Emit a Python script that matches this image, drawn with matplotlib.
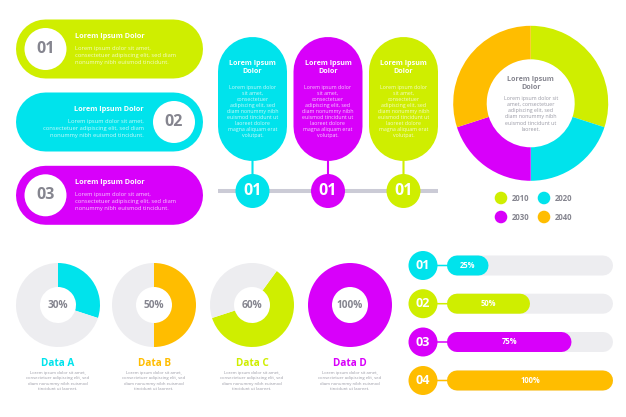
import matplotlib
matplotlib.use("Agg")
import matplotlib.pyplot as plt
from matplotlib.patches import Circle

plt.rcParams['font.family'] = ['Open Sans', 'DejaVu Sans']

LIME, CYAN, MAGENTA, ORANGE = '#CFEE00', '#00E3EC', '#D800FA', '#FFBD00'
TRACK, INK, RULE = '#EDEDF0', '#85858F', '#CBCBD6'

row_labels = ['01', '02', '03']
timeline_labels = ['01', '01', '01']
ring_years = ['2010', '2020', '2030', '2040']
ring_values = [30, 20, 20, 30]
data_names = ['Data A', 'Data B', 'Data C', 'Data D']
data_percent = [30, 50, 60, 100]
bar_labels = ['01', '02', '03', '04']
bar_percent = [25, 50, 75, 100]

title_one = 'Lorem Ipsum Dolor'
row_body = ['Lorem ipsum dolor sit amet,',
            'consectetuer adipiscing elit, sed diam',
            'nonummy nibh euismod tincidunt.']
column_title = ['Lorem Ipsum', 'Dolor']
column_body = ['Lorem ipsum dolor', 'sit amet,', 'consectetuer',
               'adipiscing elit, sed', 'diam nonummy nibh',
               'euismod tincidunt ut', 'laoreet dolore',
               'magna aliquam erat', 'volutpat.']
ring_body = ['Lorem ipsum dolor sit', 'amet, consectetuer',
             'adipiscing elit, sed', 'diam nonummy nibh',
             'euismod tincidunt ut', 'laoreet.']
data_body = ['Lorem ipsum dolor sit amet,', 'consectetuer adipiscing elit, sed',
             'diam nonummy nibh euismod', 'tincidunt ut laoreet.']

W, H = 626, 417
fig = plt.figure(figsize=(W / 100, H / 100), dpi=100, facecolor='white')
ax = fig.add_axes([0, 0, 1, 1])


def Y(y):
    return H - y


def pill(x0, y0, x1, y1, color, z=1):
    # a thick line with round caps gives true semicircular ends
    w, h = x1 - x0, y1 - y0
    r = min(w, h) / 2
    cx, cy = (x0 + x1) / 2, (y0 + y1) / 2
    if w >= h:
        xs, ys = [x0 + r, x1 - r], [Y(cy), Y(cy)]
    else:
        xs, ys = [cx, cx], [Y(y0 + r), Y(y1 - r)]
    ax.plot(xs, ys, color=color, lw=2 * r * 72 / 100, solid_capstyle='round',
            zorder=z, snap=False)


def disc(x, y, r, color, z=3):
    ax.add_patch(Circle((x, Y(y)), r, fc=color, ec='none', zorder=z))


def put(x, y, s, size, color='white', bold=False, ha='center', alpha=1, z=5):
    ax.text(x, Y(y), s, fontsize=size, color=color, alpha=alpha, ha=ha, va='center',
            fontweight='bold' if bold else 'normal', zorder=z)


def donut(cx, cy, r, inner, values, colors, start=90):
    ax.pie(values, colors=colors, center=(cx, Y(cy)), radius=r, startangle=start,
           counterclock=False, wedgeprops=dict(width=r - inner, linewidth=0), frame=False)


# horizontal pills
row_y = [49, 122, 195.3]
row_colors = [LIME, CYAN, MAGENTA]
row_disc_x = [45.5, 174, 45.5]
row_text_x = [75, 144, 75]
row_ha = ['left', 'right', 'left']
for lab, y, c, dx, tx, ha in zip(row_labels, row_y, row_colors, row_disc_x, row_text_x, row_ha):
    pill(16, y - 29.5, 203, y + 29.5, c)
    disc(dx, y, 21, 'white')
    put(dx, y, lab, 11.5, INK, True)
    put(tx, y - 12.5, title_one, 5.2, 'white', True, ha)
    for i, line in enumerate(row_body):
        put(tx, y - 1 + i * 7, line, 4.15, 'white', False, ha, 0.8)

# timeline columns
col_x = [252.5, 328, 403.5]
col_colors = [CYAN, MAGENTA, LIME]
ax.plot([218, 438], [Y(191), Y(191)], color=RULE, lw=2.9, solid_capstyle='butt', zorder=1, snap=False)
for lab, x, c in zip(timeline_labels, col_x, col_colors):
    pill(x - 34.5, 37, x + 34.5, 161, c)
    ax.plot([x, x], [Y(160), Y(180)], color=c, lw=1.5, zorder=1.5, snap=False)
    disc(x, 191, 17, c)
    put(x, 191, lab, 11.5, 'white', True)
    for i, line in enumerate(column_title):
        put(x, 63 + i * 8.7, line, 5.1, 'white', True)
    for i, line in enumerate(column_body):
        put(x, 87.3 + i * 6.03, line, 3.8, 'white', False, 'center', 0.8)

# main ring
donut(530.7, 103.3, 77.5, 44, ring_values, [LIME, CYAN, MAGENTA, ORANGE])
for i, line in enumerate(column_title):
    put(530.7, 79 + i * 8.7, line, 5.1, INK, True)
for i, line in enumerate(ring_body):
    put(530.7, 98.3 + i * 6.2, line, 3.75, '#9A9AA5')

legend_x = [501, 544, 501, 544]
legend_y = [198, 198, 217, 217]
for yr, x, y, c in zip(ring_years, legend_x, legend_y, [LIME, CYAN, MAGENTA, ORANGE]):
    disc(x, y, 6.3, c)
    put(x + 10.5, y, yr, 5.6, INK, True, 'left')

# small donuts
data_x = [58, 154, 252, 350]
data_colors = [CYAN, ORANGE, LIME, MAGENTA]
data_start = [90, 90, 54, 90]
for name, p, x, c, st in zip(data_names, data_percent, data_x, data_colors, data_start):
    vals = [p, 100 - p] if p < 100 else [p]
    cols = [c, TRACK] if p < 100 else [c]
    donut(x, 305, 42, 18, vals, cols, st)
    put(x, 305, f'{p}%', 7.3, INK, True)
    put(x, 363, name, 7.2, c, True)
    for i, line in enumerate(data_body):
        put(x, 373.3 + i * 5.1, line, 3.1, '#9A9AA5')

# progress bars
bar_y = [265.5, 303.7, 342, 380.5]
bar_colors = [CYAN, LIME, MAGENTA, ORANGE]
bar_x0, bar_len = 447, 166
for lab, p, y, c in zip(bar_labels, bar_percent, bar_y, bar_colors):
    pill(bar_x0, y - 10, bar_x0 + bar_len, y + 10, TRACK, 1)
    pill(bar_x0, y - 10, bar_x0 + bar_len * p / 100, y + 10, c, 2)
    ax.plot([430, 450], [Y(y), Y(y)], color=c, lw=1.1, zorder=1.5, snap=False)
    disc(423, y, 14.5, c)
    put(423, y, lab, 9, 'white', True)
    put(bar_x0 + bar_len * p / 200, y, f'{p}%', 5.5, 'white', True)

ax.set_xlim(0, W)
ax.set_ylim(0, H)
ax.set_aspect('auto')
ax.axis('off')
fig.savefig('out.png', dpi=100, facecolor='white')
